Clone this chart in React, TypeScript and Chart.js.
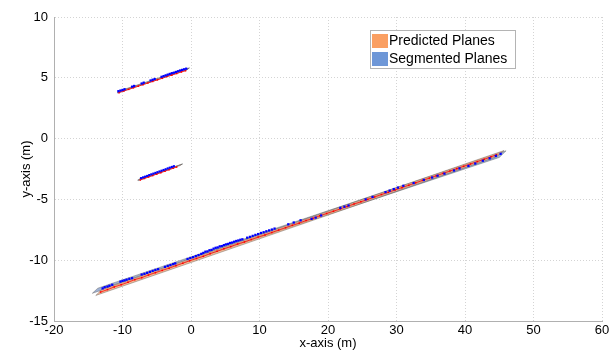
import React, { useEffect, useRef } from 'react';
import { Chart, registerables } from 'chart.js';
Chart.register(...registerables);

const xRange = [-20, 60];
const yRange = [-15, 10];
const xStep = 10;
const yStep = 5;
const legendLabels = ['Predicted Planes', 'Segmented Planes'];
const legendColors = ['#FA9F62', '#6E97D7'];

// Plane outlines (polygons, closed)
const predMain = [[-13.9, -12.9], [44.6, -1.5], [45.7, -0.98], [-12.9, -12.35], [-13.9, -12.9]];
const segMain = [[-14.4, -12.72], [45.0, -1.55], [46.0, -1.0], [-13.6, -12.3], [-14.4, -12.72]];
const predUpper = [[-10.7, 3.74], [-0.6, 5.64], [-0.3, 5.8], [-10.4, 3.9], [-10.7, 3.74]];
const segUpper = [[-10.8, 3.78], [-0.5, 5.7], [-0.2, 5.82], [-10.5, 3.92], [-10.8, 3.78]];
const predMid = [[-7.7, -3.46], [-1.6, -2.22], [-1.3, -2.1], [-7.4, -3.33], [-7.7, -3.46]];
const segMid = [[-7.8, -3.42], [-1.5, -2.15], [-1.2, -2.08], [-7.5, -3.3], [-7.8, -3.42]];

// Segmented points (blue)
const blueMain = [
  [-12.9, -12.32], [-12.6, -12.22], [-12.2, -12.17], [-11.9, -12.1], [-11.5, -12.02],
  [-10.3, -11.76], [-10.0, -11.7], [-9.7, -11.66], [-9.4, -11.6], [-9.0, -11.53], [-8.6, -11.48],
  [-7.2, -11.18], [-6.8, -11.12], [-6.4, -11.04], [-6.0, -10.96], [-5.6, -10.88], [-5.2, -10.8], [-4.8, -10.74],
  [-3.8, -10.55], [-3.4, -10.47], [-3.0, -10.4], [-2.6, -10.32], [-2.3, -10.26],
  [-0.5, -9.9], [-0.1, -9.82], [0.3, -9.75], [0.7, -9.66], [1.1, -9.58], [1.5, -9.48], [1.8, -9.4],
  [2.1, -9.3], [2.4, -9.28], [2.7, -9.18], [3.0, -9.15], [3.3, -9.05], [3.6, -8.98], [3.9, -8.95],
  [4.2, -8.86], [4.5, -8.84], [4.8, -8.76], [5.1, -8.7], [5.4, -8.66], [5.7, -8.58], [6.0, -8.55],
  [6.3, -8.48], [6.6, -8.42], [6.9, -8.38], [7.2, -8.32], [7.5, -8.28],
  [8.2, -8.15], [8.6, -8.08], [9.0, -8.0], [9.4, -7.92], [9.8, -7.85], [10.2, -7.76], [10.6, -7.7],
  [11.0, -7.62], [11.4, -7.55], [11.8, -7.48], [12.2, -7.4],
  [14.2, -7.05], [15.0, -6.9], [16.0, -6.72], [17.6, -6.6], [18.2, -6.5], [19.0, -6.32],
  [21.8, -5.7], [22.4, -5.6], [23.0, -5.5], [25.5, -5.0], [26.5, -4.8], [28.4, -4.4], [29.0, -4.28],
  [29.6, -4.15], [30.2, -4.03], [31.0, -3.88], [32.5, -3.66], [34.0, -3.4], [35.2, -3.2], [36.0, -3.05],
  [37.0, -2.88], [38.4, -2.62], [39.2, -2.45], [40.5, -2.25], [41.5, -2.05], [42.6, -1.82], [43.6, -1.62],
  [44.5, -1.42], [45.2, -1.25],
];
const blueUpper = [
  [-10.6, 3.9], [-10.3, 3.95], [-10.0, 4.0], [-9.7, 4.06], [-8.6, 4.27], [-8.3, 4.33], [-7.2, 4.53],
  [-6.9, 4.6], [-5.9, 4.78], [-5.6, 4.84], [-5.3, 4.9], [-4.3, 5.08], [-4.0, 5.14], [-3.7, 5.2],
  [-3.4, 5.26], [-3.1, 5.32], [-2.8, 5.38], [-2.5, 5.42], [-2.2, 5.48], [-1.9, 5.54], [-1.6, 5.6],
  [-1.3, 5.65], [-1.0, 5.7], [-0.7, 5.75],
];
const blueMid = [
  [-7.3, -3.25], [-7.0, -3.19], [-6.7, -3.13], [-6.4, -3.07], [-6.1, -3.0], [-5.8, -2.94], [-5.5, -2.88],
  [-5.2, -2.82], [-4.9, -2.76], [-4.6, -2.7], [-4.3, -2.64], [-4.0, -2.58], [-3.7, -2.52], [-3.4, -2.45],
  [-3.1, -2.39], [-2.8, -2.33], [-2.5, -2.27],
];

// Predicted points (red)
const redMain = [
  [-13.2, -12.62], [-12.2, -12.42], [-11.2, -12.2], [-10.2, -12.02], [-9.2, -11.82], [-8.2, -11.6],
  [-7.2, -11.44], [-6.2, -11.22], [-5.2, -11.03], [-4.2, -10.84], [-3.2, -10.66], [-2.2, -10.45],
  [-1.2, -10.25], [-0.2, -10.05], [0.8, -9.86], [1.8, -9.68], [2.8, -9.46], [3.8, -9.27], [4.8, -9.06],
  [5.8, -8.88], [6.8, -8.67], [7.8, -8.5], [8.8, -8.3], [9.8, -8.1], [10.8, -7.92], [11.8, -7.72],
  [12.8, -7.52], [13.8, -7.33], [14.8, -7.13], [15.8, -6.95], [16.8, -6.74], [17.8, -6.56], [18.8, -6.35],
  [19.8, -6.16], [20.8, -5.97], [21.8, -5.78], [22.8, -5.58], [23.8, -5.38], [24.8, -5.2], [25.8, -5.0],
  [26.8, -4.8], [27.8, -4.6], [28.8, -4.42], [29.8, -4.22], [30.8, -4.03], [31.8, -3.83], [32.8, -3.64],
  [33.8, -3.44], [34.8, -3.25], [35.8, -3.06], [36.8, -2.86], [37.8, -2.67], [38.8, -2.47], [39.8, -2.28],
  [40.8, -2.09], [41.8, -1.89], [42.8, -1.7], [43.8, -1.5], [44.6, -1.33],
];
const redUpper = [
  [-10.5, 3.78], [-9.8, 3.92], [-9.1, 4.05], [-8.4, 4.18], [-7.7, 4.31], [-7.0, 4.44], [-6.3, 4.57],
  [-5.6, 4.7], [-4.9, 4.83], [-4.2, 4.96], [-3.5, 5.1], [-2.8, 5.22], [-2.1, 5.35], [-1.4, 5.48], [-0.8, 5.58],
];
const redMid = [
  [-7.4, -3.4], [-6.8, -3.28], [-6.2, -3.16], [-5.6, -3.04], [-5.0, -2.92], [-4.4, -2.8], [-3.8, -2.68],
  [-3.2, -2.56], [-2.6, -2.44], [-2.1, -2.34],
];

const toXY = (arr: number[][]) => arr.map(([x, y]) => ({ x, y }));
const FONT = "'Liberation Sans', Arial, sans-serif";

const legendPlugin = {
  id: 'boxLegend',
  afterDraw(chart: any) {
    const ctx = chart.ctx;
    const bx = 370, by = 30, bw = 145, bh = 38;
    ctx.save();
    ctx.fillStyle = '#ffffff';
    ctx.fillRect(bx, by, bw, bh);
    ctx.strokeStyle = '#b4b4b4';
    ctx.lineWidth = 1;
    ctx.strokeRect(bx + 0.5, by + 0.5, bw, bh);
    ctx.font = `14px ${FONT}`;
    ctx.textBaseline = 'middle';
    ctx.textAlign = 'left';
    legendLabels.forEach((lab, i) => {
      const cy = by + 11 + i * 18;
      ctx.fillStyle = legendColors[i];
      ctx.fillRect(bx + 2, cy - 7, 16, 14);
      ctx.fillStyle = '#000';
      ctx.fillText(lab, bx + 19, cy + 0.5);
    });
    ctx.restore();
  },
};

export default function App() {
  const ref = useRef<HTMLCanvasElement>(null);
  useEffect(() => {
    const polyStyle = (fillCol: string) => ({
      showLine: true,
      fill: 'shape',
      backgroundColor: fillCol,
      borderColor: 'rgba(90,90,90,0.7)',
      borderWidth: 0.6,
      pointRadius: 0,
      tension: 0,
    });
    const ptStyle = (col: string, r: number) => ({
      showLine: false,
      backgroundColor: col,
      borderColor: col,
      borderWidth: 0,
      pointStyle: 'rect',
      pointRadius: r,
    });
    const redStyle = {
      showLine: true,
      borderColor: 'rgba(255,0,0,0.75)',
      borderWidth: 1,
      backgroundColor: '#ff0000',
      pointStyle: 'rect',
      pointRadius: 1.1,
      pointBorderWidth: 0,
      tension: 0,
    };
    const orange = 'rgba(240,160,110,0.72)';
    const blue = 'rgba(125,150,195,0.75)';
    const chart = new Chart(ref.current as HTMLCanvasElement, {
      type: 'scatter',
      data: {
        datasets: [
          { label: 'bu', data: toXY(blueUpper), ...ptStyle('#0000ff', 1.6), order: 1 },
          { label: 'ru', data: toXY(redUpper), ...redStyle, order: 1 },
          { label: 'bm', data: toXY(blueMid), ...ptStyle('#0000ff', 1.5), order: 1 },
          { label: 'rm', data: toXY(redMid), ...redStyle, order: 1 },
          { label: 'bM', data: toXY(blueMain), ...ptStyle('#0000ff', 1.6), order: 2 },
          { label: 'rM', data: toXY(redMain), ...redStyle, order: 2 },
          { label: 'pM', data: toXY(predMain), ...polyStyle(orange), order: 3 },
          { label: 'sM', data: toXY(segMain), ...polyStyle(blue), order: 4 },
          { label: 'pU', data: toXY(predUpper), ...polyStyle(orange), order: 3 },
          { label: 'sU', data: toXY(segUpper), ...polyStyle(blue), order: 4 },
          { label: 'pm', data: toXY(predMid), ...polyStyle(orange), order: 3 },
          { label: 'sm', data: toXY(segMid), ...polyStyle(blue), order: 4 },
        ] as any,
      },
      options: {
        animation: false,
        responsive: false,
        events: [],
        layout: { padding: { top: 17, right: 11, left: 0, bottom: 0 } },
        plugins: { legend: { display: false }, tooltip: { enabled: false } },
        scales: {
          x: {
            type: 'linear',
            min: xRange[0],
            max: xRange[1],
            ticks: { stepSize: xStep, color: '#000', font: { family: FONT, size: 13 }, padding: 2, maxRotation: 0 },
            grid: { color: '#d4d4d4', drawTicks: false },
            border: { display: true, color: '#b0b0b0', width: 1, dash: [1, 2] },
            title: { display: true, text: 'x-axis (m)', color: '#000', font: { family: FONT, size: 13 }, padding: { top: 0, bottom: 2 } },
            afterFit: (s: any) => { s.height = 32; },
          },
          y: {
            type: 'linear',
            min: yRange[0],
            max: yRange[1],
            ticks: { stepSize: yStep, color: '#000', font: { family: FONT, size: 13 }, padding: 6 },
            grid: { color: '#d4d4d4', drawTicks: false },
            border: { display: true, color: '#b0b0b0', width: 1, dash: [1, 2] },
            title: { display: true, text: 'y-axis (m)', color: '#000', font: { family: FONT, size: 13 }, padding: { top: 19, bottom: 0 } },
            afterFit: (s: any) => { s.width = 54; },
          },
        },
      } as any,
      plugins: [legendPlugin],
    });
    return () => chart.destroy();
  }, []);
  return (
    <div style={{ position: 'absolute', left: 0, top: 0, width: 613, height: 353, background: '#fff' }}>
      <canvas ref={ref} width={613} height={353} />
    </div>
  );
}
